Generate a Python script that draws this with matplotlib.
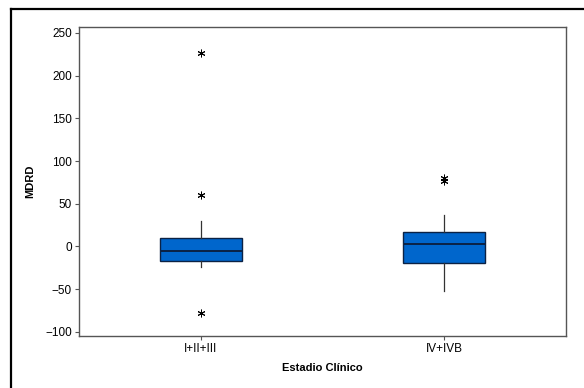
import matplotlib
matplotlib.use("Agg")
import matplotlib.pyplot as plt
from matplotlib.lines import Line2D

plt.rcParams['font.family'] = ['Liberation Sans', 'DejaVu Sans']

# box statistics
groups = ['I+II+III', 'IV+IVB']
whislo = [-24.6, -52.7]
q1 = [-16.8, -19.0]
med = [-5.0, 2.4]
q3 = [9.8, 17.2]
whishi = [30.0, 37.0]
fliers = [[226.0, 60.0, -78.5], [77.0, 80.0]]

W, H = 584, 388
fig = plt.figure(figsize=(W / 100, H / 100), dpi=100)

# outer frame (only top and left edges are visible)
top = 1 - 8.5 / H
left = 11 / W
fig.lines.append(Line2D([left, 1.0], [top, top], transform=fig.transFigure,
                        color='black', linewidth=1.6))
fig.lines.append(Line2D([left, left], [0.0, top], transform=fig.transFigure,
                        color='black', linewidth=1.6))

ax = fig.add_axes([79 / W, 1 - 336 / H, (566 - 79) / W, (336 - 27) / H])

stats = []
for i, g in enumerate(groups):
    stats.append(dict(label=g, whislo=whislo[i], q1=q1[i], med=med[i],
                      q3=q3[i], whishi=whishi[i], fliers=fliers[i]))

navy = '#0b2245'
ax.bxp(stats, positions=[1, 2], widths=0.336, patch_artist=True,
       showcaps=False,
       boxprops=dict(facecolor='#0066cc', edgecolor=navy, linewidth=1.0),
       medianprops=dict(color=navy, linewidth=1.4),
       whiskerprops=dict(color='#333333', linewidth=0.9),
       flierprops=dict(marker=(6, 2, 0), markersize=5.5,
                       markeredgecolor='black', markeredgewidth=0.7,
                       linestyle='none'))

ax.set_xlim(0.5, 2.5)
ax.set_ylim(-105, 257)
ax.set_yticks([-100, -50, 0, 50, 100, 150, 200, 250])
for s in ax.spines.values():
    s.set_color('#555555')
    s.set_linewidth(1.0)
ax.tick_params(axis='both', labelsize=8.5, color='#555555', length=3,
               width=0.8, pad=2)
ax.set_ylabel('MDRD', fontsize=8, fontweight='bold', labelpad=7)
ax.set_xlabel('Estadio Clínico', fontsize=8, fontweight='bold', labelpad=6)

fig.savefig('out.png', dpi=100)
